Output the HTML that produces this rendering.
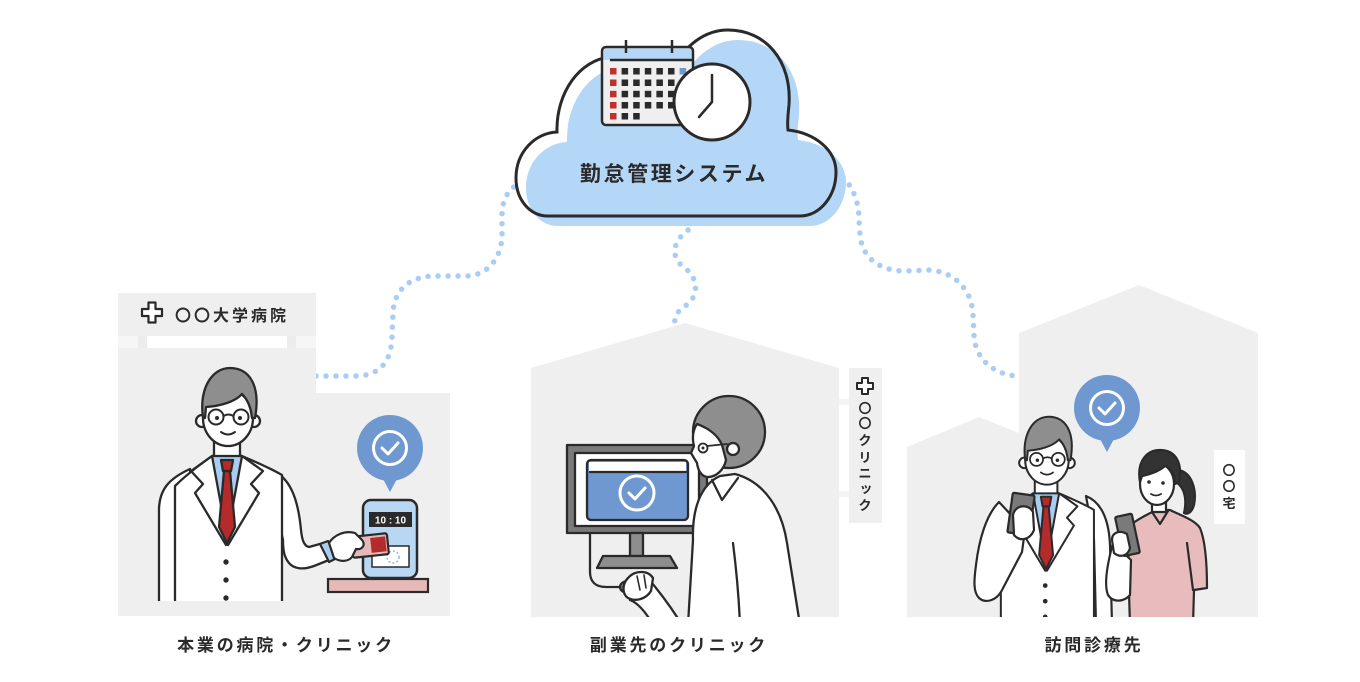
<!DOCTYPE html>
<html><head><meta charset="utf-8"><style>
html,body{margin:0;padding:0;background:#fff;}
svg{display:block;}
text{font-family:"Liberation Sans","Noto Sans CJK JP",sans-serif;}
</style></head><body>
<svg width="1360" height="682" viewBox="0 0 1360 682" xmlns="http://www.w3.org/2000/svg">
<defs>
<clipPath id="clipL"><rect x="110" y="340" width="360" height="261"/></clipPath>
<clipPath id="clipR"><rect x="900" y="280" width="360" height="337"/></clipPath>
<clipPath id="clipM"><rect x="520" y="320" width="330" height="297"/></clipPath>
<g id="docBase" stroke="#2a2a2a" stroke-width="2.3" stroke-linejoin="round" stroke-linecap="round">
  <path d="M175 640 L175 486 C183 478 198 466 212 456 L242 456 C256 462 270 468 282 475 L282 640 Z" fill="#fff"/>
  <path d="M214 436 L214 458 L240 458 L240 436" fill="#fff"/>
  <path d="M212 456 L242 456 L233 505 L227 542 L221 505 Z" fill="#a9cdf0"/>
  <path d="M224 471 L230 471 L235 527 L227 543 L219 527 Z" fill="#b52a2a"/>
  <path d="M221 460 L233 460 L231 471 L223 471 Z" fill="#b52a2a"/>
  <path d="M212 456 L191 471 L203 484 L195 493 L226 545" fill="none"/>
  <path d="M242 456 L263 471 L251 484 L259 493 L228 545" fill="none"/>
  <circle cx="226" cy="562" r="2.7" fill="#2a2a2a" stroke="none"/>
  <circle cx="226" cy="580" r="2.7" fill="#2a2a2a" stroke="none"/>
  <circle cx="226" cy="598" r="2.7" fill="#2a2a2a" stroke="none"/>
  <circle cx="202" cy="421" r="6" fill="#fff"/>
  <circle cx="254" cy="421" r="6" fill="#fff"/>
  <ellipse cx="228" cy="418" rx="25" ry="28" fill="#fff"/>
  <path d="M203 418 C199 388 212 368 230 368 C249 368 261 385 255 418 L252 418 C251 408 248 400 242 394 C235 402 220 406 206 407 L205 418 Z" fill="#8e8e8e"/>
  <circle cx="216" cy="417" r="7.5" fill="#fff" stroke-width="2"/>
  <circle cx="241" cy="417" r="7.5" fill="#fff" stroke-width="2"/>
  <path d="M223.5 416 Q228.5 413 233.5 416" fill="none" stroke-width="2"/>
  <circle cx="217" cy="418" r="2" fill="#2a2a2a" stroke="none"/>
  <circle cx="240" cy="418" r="2" fill="#2a2a2a" stroke="none"/>
  <path d="M221 432 Q228 437 235 432" fill="none" stroke-width="2"/>
</g>
</defs>

<!-- dotted connectors -->
<g fill="none" stroke="#a9cdf3" stroke-width="5.5" stroke-linecap="round" stroke-dasharray="0 10">
  <path d="M316 376 L355 376 C385 376 392 355 392 335 L393 315 C393 290 410 276 435 276 L465 276 C490 276 502 255 502 235 L502 215 C502 200 508 190 518 184"/>
  <path d="M843 177 C855 190 859 205 859 220 L860 235 C862 258 880 271 905 271 L930 270 C955 272 972 290 973 315 L974 335 C975 360 995 375 1018 376"/>
  <path d="M688 230 C672 242 670 258 685 268 C700 280 698 298 685 306 C676 312 674 318 675 325"/>
</g>

<!-- cloud -->
<path transform="translate(10 10)" d="M548 216 C530 216 516 200 516 178 C516 152 535 133 557 132 C556 92 580 60 610 57 C640 55 660 60 672 70 C685 45 705 30 728 30 C765 30 792 60 789 105 C788 115 787 122 788 130 C815 133 836 150 836 172 C836 196 820 216 800 216 Z" fill="#b5d7f7"/>
<path d="M548 216 C530 216 516 200 516 178 C516 152 535 133 557 132 C556 92 580 60 610 57 C640 55 660 60 672 70 C685 45 705 30 728 30 C765 30 792 60 789 105 C788 115 787 122 788 130 C815 133 836 150 836 172 C836 196 820 216 800 216 Z" fill="none" stroke="#2a2a2a" stroke-width="3"/>
<!-- calendar -->
<g stroke="#2a2a2a" stroke-width="2.5">
  <rect x="602" y="47" width="91" height="78" rx="4" fill="#efefef"/>
  <path d="M603.5 60 L603.5 51 Q603.5 48.5 606 48.5 L689 48.5 Q691.5 48.5 691.5 51 L691.5 60 Z" fill="#b5d7f7" stroke="none"/>
  <line x1="610" y1="60" x2="693" y2="60"/>
  <line x1="626" y1="40" x2="626" y2="53"/>
  <line x1="672" y1="40" x2="672" y2="53"/>
</g>
<g stroke="none">
  <g fill="#c0302e">
    <rect x="610" y="68" width="6.5" height="6.5"/><rect x="610" y="79.5" width="6.5" height="6.5"/><rect x="610" y="90.8" width="6.5" height="6.5"/><rect x="610" y="102" width="6.5" height="6.5"/><rect x="610" y="113" width="6.5" height="6.5"/>
  </g>
  <g fill="#2a2a2a">
    <rect x="621.6" y="68" width="6.5" height="6.5"/><rect x="633.2" y="68" width="6.5" height="6.5"/><rect x="644.8" y="68" width="6.5" height="6.5"/><rect x="656.4" y="68" width="6.5" height="6.5"/><rect x="668" y="68" width="6.5" height="6.5"/>
    <rect x="621.6" y="79.5" width="6.5" height="6.5"/><rect x="633.2" y="79.5" width="6.5" height="6.5"/><rect x="644.8" y="79.5" width="6.5" height="6.5"/><rect x="656.4" y="79.5" width="6.5" height="6.5"/><rect x="668" y="79.5" width="6.5" height="6.5"/><rect x="679.6" y="79.5" width="6.5" height="6.5"/>
    <rect x="621.6" y="90.8" width="6.5" height="6.5"/><rect x="633.2" y="90.8" width="6.5" height="6.5"/><rect x="644.8" y="90.8" width="6.5" height="6.5"/><rect x="656.4" y="90.8" width="6.5" height="6.5"/><rect x="668" y="90.8" width="6.5" height="6.5"/><rect x="679.6" y="90.8" width="6.5" height="6.5"/>
    <rect x="621.6" y="102" width="6.5" height="6.5"/><rect x="633.2" y="102" width="6.5" height="6.5"/><rect x="644.8" y="102" width="6.5" height="6.5"/><rect x="656.4" y="102" width="6.5" height="6.5"/><rect x="668" y="102" width="6.5" height="6.5"/>
    <rect x="621.6" y="113" width="6.5" height="6.5"/><rect x="633.2" y="113" width="6.5" height="6.5"/>
  </g>
  <rect x="679.6" y="68" width="6.5" height="6.5" fill="#6f98d1"/>
</g>
<!-- clock -->
<circle cx="712" cy="102" r="38" fill="#fff" stroke="#2a2a2a" stroke-width="3"/>
<path d="M712 75 L712 102 L699 117" fill="none" stroke="#2a2a2a" stroke-width="2.5" stroke-linecap="round" stroke-linejoin="round"/>
<text x="674" y="181" text-anchor="middle" font-size="21" font-weight="bold" fill="#2a2a2a" letter-spacing="2.6">勤怠管理システム</text>

<!-- LEFT building -->
<rect x="118" y="293" width="198" height="43" fill="#efefef"/>
<rect x="118" y="336" width="20" height="12" fill="#f6f6f6"/>
<rect x="138" y="336" width="9" height="12" fill="#ececec"/>
<rect x="287" y="336" width="9" height="12" fill="#ececec"/>
<rect x="296" y="336" width="20" height="12" fill="#f6f6f6"/>
<rect x="118" y="348" width="198" height="268" fill="#efefef"/>
<rect x="316" y="393" width="134" height="223" fill="#efefef"/>
<path d="M148.5 302.5 h7 v6.5 h6.5 v7 h-6.5 v6.5 h-7 v-6.5 h-6.5 v-7 h6.5 z" fill="#fff" stroke="#2a2a2a" stroke-width="2.2" stroke-linejoin="round"/>
<text x="175" y="321" font-size="16" font-weight="bold" fill="#2a2a2a" letter-spacing="3">〇〇大学病院</text>

<!-- counter + reader -->
<rect x="328" y="579" width="100" height="13" fill="#e6b8b8" stroke="#2a2a2a" stroke-width="2.2"/>
<rect x="363" y="500" width="54" height="78" rx="8" fill="#b7d7f3" stroke="#2a2a2a" stroke-width="2.5"/>
<rect x="369" y="512" width="43" height="15" fill="#2a2a2a"/>
<text x="390.5" y="523.5" text-anchor="middle" font-size="10" font-weight="bold" fill="#fff">10 : 10</text>
<rect x="372" y="546" width="37" height="21" fill="#fff" stroke="#2a2a2a" stroke-width="1.5"/>
<circle cx="393" cy="557" r="6" fill="none" stroke="#8fb8e6" stroke-width="1.5" stroke-dasharray="2 2"/>

<!-- left doctor -->
<g clip-path="url(#clipL)" stroke="#2a2a2a" stroke-width="2.3" stroke-linejoin="round" stroke-linecap="round">
  <path d="M159 640 L159 508 C160 490 168 479 190 469 L200 640 Z" fill="#fff"/>
  <path d="M268 468 C290 476 298 498 301 530 C302 540 304 546 309 547 L327 542 L334 558 L314 566 C303 570 294 569 289 563 C284 557 283 550 283 540 Z" fill="#fff"/>
  <use href="#docBase"/>
</g>
<g stroke="#2a2a2a" stroke-width="2.2" stroke-linejoin="round" stroke-linecap="round">
  <g transform="rotate(-6 370 546)">
    <rect x="352" y="535" width="36" height="21" rx="2" fill="#e6b8b8"/>
    <rect x="371" y="538" width="15" height="15" fill="#b52a2a" stroke="none"/>
  </g>
  <path d="M320 544 L328 541 L337 558 L329 562 Z" fill="#a9cdf0"/>
  <path d="M329 543 C334 535 345 530 355 533 L362 540 C366 545 362 550 356 549 L352 557 C348 562 340 562 334 558 Z" fill="#fff"/>
</g>
<g transform="translate(390 448)">
  <circle r="33" fill="#6f98d1"/>
  <path d="M-8 29 L8 29 L0 44 Z" fill="#6f98d1"/>
  <circle r="16.5" fill="none" stroke="#fff" stroke-width="3"/>
  <path d="M-8 0 L-2 6 L8 -5" fill="none" stroke="#fff" stroke-width="3" stroke-linecap="round" stroke-linejoin="round"/>
</g>

<!-- MIDDLE building -->
<polygon points="531,368 685,323 839,368 839,617 531,617" fill="#efefef"/>
<rect x="849" y="368" width="33" height="155" fill="#efefef"/>
<rect x="839" y="399" width="10" height="6" fill="#f4f4f4"/>
<rect x="839" y="491" width="10" height="6" fill="#f4f4f4"/>
<path d="M862 378 h6 v5 h5 v6 h-5 v5 h-6 v-5 h-5 v-6 h5 z" fill="#fff" stroke="#2a2a2a" stroke-width="2" stroke-linejoin="round"/>
<g font-size="13" font-weight="bold" fill="#2a2a2a" text-anchor="middle">
  <text x="865" y="413">〇</text>
  <text x="865" y="428">〇</text>
  <text x="865" y="445">ク</text>
  <text x="865" y="462">リ</text>
  <text x="865" y="478">ニ</text>
  <text x="866" y="493">ッ</text>
  <text x="865" y="510">ク</text>
</g>
<!-- monitor -->
<g stroke="#2a2a2a" stroke-width="2.3" stroke-linejoin="round" stroke-linecap="round">
  <path d="M590 533 L590 572 C590 582 596 587 606 587 L622 587" fill="none"/>
  <rect x="567" y="445" width="140" height="88" fill="#7a7a7a"/>
  <rect x="575" y="453" width="124" height="73" fill="#fff"/>
  <rect x="587" y="460" width="101" height="60" rx="4" fill="#6f98d1"/>
  <path d="M589 462 L686 462 L686 471 L589 471 Z" fill="#fff" stroke="none"/>
  <line x1="590" y1="472" x2="686" y2="472"/>
  <rect x="630" y="533" width="13" height="23" fill="#8e8e8e"/>
  <polygon points="603,556 670,556 677,568 597,568" fill="#8e8e8e"/>
  <ellipse cx="628" cy="587" rx="8" ry="6" fill="#7a7a7a"/>
</g>
<circle cx="637" cy="493" r="17" fill="none" stroke="#fff" stroke-width="3"/>
<path d="M629 493 L635 499 L645 488" fill="none" stroke="#fff" stroke-width="3" stroke-linecap="round" stroke-linejoin="round"/>
<!-- middle person -->
<g clip-path="url(#clipM)" stroke="#2a2a2a" stroke-width="2.3" stroke-linejoin="round" stroke-linecap="round">
  <path d="M647 577 C658 590 670 605 682 625 L653 625 C645 610 636 602 630 600 Z" fill="#fff"/>
  <path d="M628 578 C635 570 648 570 653 578 L651 591 C646 599 636 602 628 598 C622 594 622 584 628 578 Z" fill="#fff"/>
  <path d="M637 576 L640 590 M644 575 L646 588" fill="none" stroke-width="1.6"/>
  <path d="M720 476 C700 485 692 510 693 540 L688 625 L800 625 L787 543 C782 510 765 482 735 474 Z" fill="#fff"/>
  <path d="M733 543 C737 575 739 600 740 625" fill="none"/>
  <path d="M712 480 L722 500 L738 478" fill="none"/>
  <circle cx="729" cy="432" r="36" fill="#8e8e8e"/>
  <path d="M697 424 C708 428 718 435 722 445 L726 460 C724 470 716 477 708 477 C702 477 698 471 697 463 L691 453 L694 446 C692 438 693 430 697 424 Z" fill="#fff"/>
  <circle cx="733" cy="449" r="6" fill="#fff"/>
  <line x1="707" y1="446" x2="727" y2="444" stroke-width="1.8"/>
  <circle cx="703" cy="448" r="4.5" fill="#fff" stroke-width="1.8"/>
  <circle cx="703" cy="448" r="1.5" fill="#2a2a2a" stroke="none"/>
</g>

<!-- RIGHT buildings -->
<polygon points="1019,333 1139,285 1258,333 1258,617 1019,617" fill="#efefef"/>
<polygon points="907,447 979,417 1019,433 1019,617 907,617" fill="#efefef"/>
<rect x="1214" y="450" width="31" height="74" fill="#fff"/>
<g font-size="13" font-weight="bold" fill="#2a2a2a" text-anchor="middle">
  <text x="1229" y="475">〇</text>
  <text x="1229" y="491">〇</text>
  <text x="1229" y="508">宅</text>
</g>
<g transform="translate(1107 408)">
  <circle r="33" fill="#6f98d1"/>
  <path d="M-8 29 L8 29 L0 44 Z" fill="#6f98d1"/>
  <circle r="16.5" fill="none" stroke="#fff" stroke-width="3"/>
  <path d="M-8 0 L-2 6 L8 -5" fill="none" stroke="#fff" stroke-width="3" stroke-linecap="round" stroke-linejoin="round"/>
</g>
<g clip-path="url(#clipR)" stroke="#2a2a2a" stroke-width="2.2" stroke-linejoin="round" stroke-linecap="round">
  <!-- right doctor -->
  <path d="M1086 496 C1103 503 1109 522 1110 545 L1112 625 L1096 625 L1094 540 Z" fill="#fff"/>
  <use href="#docBase" transform="translate(848.6 96.6) scale(0.87)"/>
  <path d="M999 502 C986 515 979 540 976 565 C974 580 973 592 979 598 C986 604 996 600 1001 592 L1022 552 L1025 530 Z" fill="#fff"/>
  <rect x="1010" y="494" width="22" height="40" rx="1.5" fill="#7a7a7a" transform="rotate(8 1021 514)"/>
  <path d="M1013 515 C1015 505 1028 503 1033 512 L1034 530 C1030 540 1020 542 1014 535 Z" fill="#fff"/>
  <!-- woman -->
  <path d="M1133 523 C1145 515 1152 512 1157 510 L1170 510 C1180 515 1195 520 1200 528 C1205 540 1207 560 1207 588 L1194 590 L1193 625 L1130 625 L1128 560 Z" fill="#e8bcbc"/>
  <path d="M1187 543 L1193 590" fill="none"/>
  <path d="M1152 512 L1160 524 L1168 511" fill="none"/>
  <path d="M1152 496 L1152 512 L1166 512 L1166 496" fill="#fff"/>
  <path d="M1178 470 C1192 472 1197 490 1194 505 C1192 512 1188 515 1184 513 C1187 500 1185 488 1176 482 Z" fill="#333"/>
  <ellipse cx="1157" cy="484" rx="17" ry="21" fill="#fff"/>
  <path d="M1140 482 C1136 460 1148 450 1160 450 C1175 450 1183 462 1179 482 L1175 484 C1175 475 1172 469 1165 466 C1158 472 1148 475 1142 476 Z" fill="#333"/>
  <circle cx="1149" cy="482" r="1.8" fill="#2a2a2a" stroke="none"/>
  <circle cx="1163" cy="483" r="1.8" fill="#2a2a2a" stroke="none"/>
  <path d="M1151 494 Q1156 497 1161 494" fill="none" stroke-width="1.8"/>
  <path d="M1113 543 C1107 565 1104 585 1108 595 C1113 603 1124 602 1130 595 L1131 560 Z" fill="#fff"/>
  <rect x="1119" y="515" width="17" height="40" rx="1.5" fill="#7a7a7a" transform="rotate(-12 1127 535)"/>
  <path d="M1112 540 C1112 532 1120 530 1127 534 L1130 548 C1128 556 1120 558 1114 553 Z" fill="#fff"/>
</g>

<!-- bottom labels -->
<g font-size="17" font-weight="bold" fill="#2a2a2a" text-anchor="middle" letter-spacing="2.8">
  <text x="286" y="651">本業の病院・クリニック</text>
  <text x="679" y="651">副業先のクリニック</text>
  <text x="1094" y="651">訪問診療先</text>
</g>
</svg>
</body></html>
